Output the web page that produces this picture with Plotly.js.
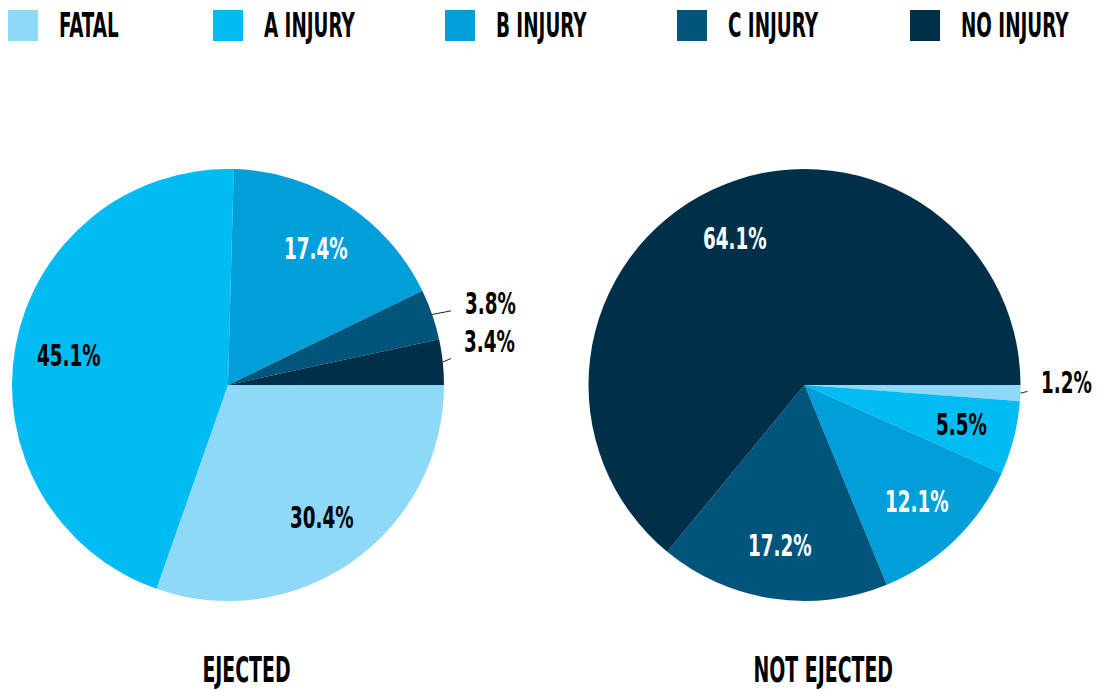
<!DOCTYPE html>
<html>
<head>
<meta charset="utf-8">
<script src="https://cdn.plot.ly/plotly-3.0.1.min.js"></script>
<style>html,body{margin:0;padding:0;background:#fff;}#chart{width:1099px;height:690px;}</style>
</head>
<body>
<div id="chart"></div>
<script>
const categories = ["FATAL", "A INJURY", "B INJURY", "C INJURY", "NO INJURY"];
const colors = ["#8ED8F8", "#00BCF2", "#009FDA", "#02557A", "#003049"];
const ejectedValues = [30.4, 45.1, 17.4, 3.8, 3.4];
const notEjectedValues = [1.2, 5.5, 12.1, 17.2, 64.1];
const pieTitles = ["EJECTED", "NOT EJECTED"];

const FONT = "'DejaVu Sans Condensed', 'Liberation Sans Narrow', sans-serif";
const W = 1099, H = 690;

// layout geometry (pixels)
const pies = [
  {values: ejectedValues, x0: 12, x1: 444, outside: [false, false, false, true, true], dark: [false, false, true, true, true]},
  {values: notEjectedValues, x0: 588, x1: 1021, outside: [true, false, false, false, false], dark: [false, false, true, true, true]}
];
const pieTop = 169, pieBottom = 601;

const data = pies.map(p => ({
  type: 'pie',
  labels: categories,
  values: p.values,
  sort: false,
  direction: 'clockwise',
  rotation: 90,
  marker: {colors: colors, line: {width: 0}},
  domain: {x: [p.x0 / W, p.x1 / W], y: [1 - pieBottom / H, 1 - pieTop / H]},
  textinfo: 'none',
  hoverinfo: 'label+value',
  showlegend: false
}));

const shapes = [];
const annotations = [];
const kinds = [];

// legend with large squares
const legendSquareX = [8, 213, 445, 677, 910];
categories.forEach((c, i) => {
  const x0 = legendSquareX[i];
  shapes.push({type: 'rect', xref: 'paper', yref: 'paper',
    x0: x0 / W, x1: (x0 + 30) / W, y0: 1 - 41 / H, y1: 1 - 10 / H,
    fillcolor: colors[i], line: {width: 0}});
  annotations.push({text: c, xref: 'paper', yref: 'paper', x: (x0 + 49) / W, y: 1 - 25 / H,
    xanchor: 'left', yanchor: 'middle', showarrow: false,
    font: {family: FONT, size: 34, weight: 'bold', color: '#000'}});
  kinds.push('legend');
});

// value labels derived from the data
pies.forEach(p => {
  const cx = (p.x0 + p.x1) / 2, cy = (pieTop + pieBottom) / 2;
  const r = Math.min(p.x1 - p.x0, pieBottom - pieTop) / 2;
  const total = p.values.reduce((a, b) => a + b, 0);
  let cum = 0;
  let outCount = 0;
  p.values.forEach((v, i) => {
    const th = 2 * Math.PI * (cum + v / 2) / total;
    cum += v;
    const label = v.toFixed(1) + '%';
    if (p.outside[i]) {
      const ex = cx + r * Math.cos(th), ey = cy + r * Math.sin(th);
      annotations.push({text: label, xref: 'paper', yref: 'paper', x: ex / W, y: 1 - ey / H,
        showarrow: true, arrowhead: 0, arrowwidth: 1, arrowcolor: '#222', standoff: 0,
        ax: (cx + r + 46) - ex, ay: outCount === 0 ? -11 : -20,
        font: {family: FONT, size: 30, weight: 'bold', color: '#000'}});
      outCount++;
    } else {
      const k = 0.75;
      const lx = cx + k * r * Math.cos(th), ly = cy + k * r * Math.sin(th);
      annotations.push({text: label, xref: 'paper', yref: 'paper', x: lx / W, y: 1 - ly / H,
        xanchor: 'center', yanchor: 'middle', showarrow: false,
        font: {family: FONT, size: 30, weight: 'bold', color: p.dark[i] ? '#fff' : '#000'}});
    }
    kinds.push('label');
  });
});

// pie titles
const titleX = [246, 823];
pieTitles.forEach((t, i) => {
  annotations.push({text: t, xref: 'paper', yref: 'paper', x: titleX[i] / W, y: 1 - 670 / H,
    xanchor: 'center', yanchor: 'middle', showarrow: false,
    font: {family: FONT, size: 35, weight: 'bold', color: '#000'}});
  kinds.push('title');
});

const layout = {
  width: W, height: H,
  margin: {l: 0, r: 0, t: 0, b: 0},
  paper_bgcolor: '#fff',
  showlegend: false,
  shapes: shapes,
  annotations: annotations
};

const squeeze = {legend: 0.6, title: 0.6, label: 0.68};

Plotly.newPlot('chart', data, layout, {displayModeBar: false, staticPlot: true}).then(gd => {
  gd.querySelectorAll('g.annotation').forEach(g => {
    const idx = +g.getAttribute('data-index');
    const kind = kinds[idx];
    const t = g.querySelector('text.annotation-text');
    if (!t) return;
    const len = t.getComputedTextLength();
    const f = squeeze[kind];
    const shrink = len * (1 - f);
    t.setAttribute('lengthAdjust', 'spacingAndGlyphs');
    t.setAttribute('textLength', (len * f).toFixed(2));
    if (kind === 'legend') {
      const x = parseFloat(t.getAttribute('x')) || 0;
      t.setAttribute('x', (x - shrink / 2).toFixed(2));
    }
    // keep the annotation boxes in step with the narrowed text
    g.querySelectorAll('rect.bg, rect.annotation-text-g, rect').forEach(rc => {
      const w = parseFloat(rc.getAttribute('width'));
      if (!isFinite(w) || w <= shrink) return;
      rc.setAttribute('width', (w - shrink).toFixed(2));
      if (kind !== 'legend') {
        const rx = parseFloat(rc.getAttribute('x')) || 0;
        rc.setAttribute('x', (rx + shrink / 2).toFixed(2));
      }
    });
  });
});
</script>
</body>
</html>
